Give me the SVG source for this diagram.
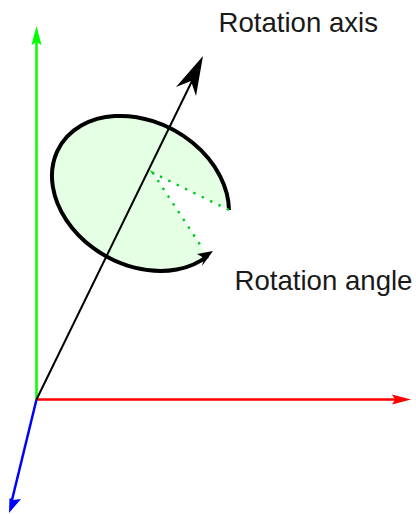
<svg xmlns="http://www.w3.org/2000/svg" width="416" height="514" viewBox="0 0 416 514">
<style>
.lbl{font-family:"Liberation Sans",Arial,sans-serif;font-size:27.6px;fill:#1a1a1a}
.ax{fill:none;stroke-width:2.5}
.arc{fill:none;stroke:#000;stroke-width:4;stroke-linecap:butt}
.dot{fill:none;stroke:#00c820;stroke-width:2.4;stroke-dasharray:2.4 6.9}
</style>
<rect width="416" height="514" fill="#fff"/>
<g id="disc">
<path d="M229,210 A93.4,71.6 29.8 1 0 207.600,256 L153,173 Z" fill="#e5ffe5"/>
<path id="rotation-arc" class="arc" d="M229,210 A93.4,71.6 29.8 1 0 207.600,256"/>
<path d="M213,251 L197,254 L204,258 L202,266 Z" fill="#000"/>
<path class="dot" d="M229,210 L153,173 L201,246"/>
</g>
<g id="connectors">
<g id="axis-y"><path class="ax" stroke="#00ff00" d="M36.500,400 V42"/><path d="M36.500,26 L31.500,45 L36.500,42 L41.500,45 Z" fill="#00ff00"/></g>
<g id="axis-x"><path class="ax" stroke="#ff0000" d="M36.500,399.500 H396"/><path d="M411,399.500 L392,394.500 L395,399.500 L392,404.500 Z" fill="#ff0000"/></g>
<g id="axis-z"><path class="ax" stroke="#0000ff" d="M36.500,399.500 L12,500"/><path d="M9,513 L9.500,498 L13,500 L21,499 Z" fill="#0000ff"/></g>
<g id="rotation-axis"><path stroke="#000" stroke-width="2" fill="none" d="M36.500,399.500 L193,79"/><path d="M203,56 L176,87 L191,81 L196,96 Z" fill="#000"/></g>
</g>
<g id="label-axis"><text class="lbl" x="218.500" y="32">Rotation axis</text></g>
<g id="label-angle"><text class="lbl" x="234.500" y="289.500">Rotation angle</text></g>
</svg>
